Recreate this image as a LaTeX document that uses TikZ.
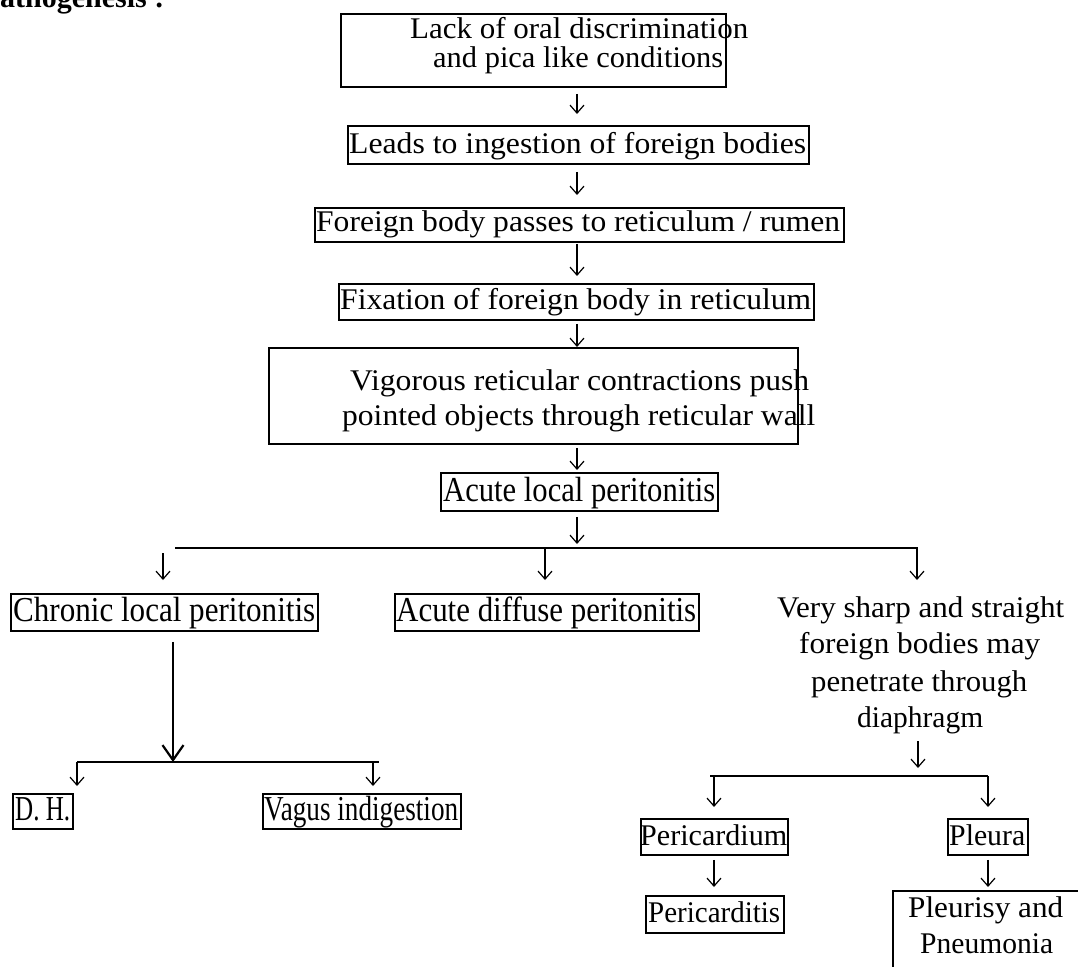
\documentclass[tikz,border=0pt]{standalone}
\usepackage{fontspec}
\setmainfont{Liberation Serif}
\usetikzlibrary{arrows.meta}
% stretch a line of text to a given width (in pt), keeping its height
\newcommand{\fitline}[2]{\resizebox{#1pt}{\height}{#2}}

\tikzset{
  box/.style={draw, line width=1.8pt, inner sep=0pt, anchor=north west},
  txt/.style={anchor=base west, inner sep=0pt, font=\fontsize{30}{36}\selectfont},
  tall/.style={anchor=base west, inner sep=0pt, font=\fontsize{35}{40}\selectfont},
  flow/.style={line width=1.2pt, -{Straight Barb[length=8pt,width=14pt,line width=1.2pt]}},
  bigflow/.style={line width=2.2pt, -{Straight Barb[length=15pt,width=21pt,line width=2.2pt]}},
  bar/.style={line width=1.6pt},
}

\begin{document}
\begin{tikzpicture}[x=1pt,y=-1pt]
\clip (0,0) rectangle (1078,966);

% heading, cut at the top edge
\node[anchor=base west, inner sep=0pt, font=\fontsize{30}{36}\selectfont\bfseries] (title) at (0,8) {athogenesis :};

\coordinate (spine) at (577,0);

% ---------- main chain ----------
\node[box, minimum width=385pt, minimum height=73pt] (b1) at (340,13) {};
\node[txt] (t1a) at (410,39) {\fitline{338}{Lack of oral discrimination}};
\node[txt] (t1b) at (433,67) {\fitline{290}{and pica like conditions}};

\node[box, minimum width=461pt, minimum height=38pt] (b2) at (347,125) {};
\node[txt] (t2) at (349,153) {\fitline{457}{Leads to ingestion of foreign bodies}};

\node[box, minimum width=529pt, minimum height=34pt] (b3) at (314,207) {};
\node[txt] (t3) at (316,231) {\fitline{524}{Foreign body passes to reticulum / rumen}};

\node[box, minimum width=475pt, minimum height=36pt] (b4) at (338,283) {};
\node[txt] (t4) at (340,309) {\fitline{471}{Fixation of foreign body in reticulum}};

\node[box, minimum width=529pt, minimum height=96pt] (b5) at (268,347) {};
\node[txt] (t5a) at (350,390) {\fitline{459}{Vigorous reticular contractions push}};
\node[txt] (t5b) at (342,425) {\fitline{473}{pointed objects through reticular wall}};

\node[box, minimum width=277pt, minimum height=38pt] (b6) at (440,472) {};
\node[tall] (t6) at (443,501) {\fitline{272}{Acute local peritonitis}};

\draw[flow, shorten <=6pt, shorten >=11pt] (b1.south -| spine) -- (b2.north -| spine);
\draw[flow, shorten <=7pt, shorten >=12pt] (b2.south -| spine) -- (b3.north -| spine);
\draw[flow, shorten <=1pt, shorten >=7pt] (b3.south -| spine) -- (b4.north -| spine);
\draw[flow, shorten <=3pt, shorten >=0pt] (b4.south -| spine) -- (b5.north -| spine);
\draw[flow, shorten <=3pt, shorten >=2pt] (b5.south -| spine) -- (b6.north -| spine);

% ---------- first branching ----------
\coordinate (h1L) at (175,548);
\coordinate (h1R) at (918,548);
\draw[bar] (h1L) -- (h1R);
\draw[flow, shorten <=5pt, shorten >=4pt] (b6.south -| spine) -- (h1L -| spine);

\node[box, minimum width=307pt, minimum height=37pt] (b7) at (10,593) {};
\node[tall] (t7) at (13,621) {\fitline{302}{Chronic local peritonitis}};
\node[box, minimum width=304pt, minimum height=37pt] (b8) at (394,593) {};
\node[tall] (t8) at (396,621) {\fitline{300}{Acute diffuse peritonitis}};

\node[txt] (t9a) at (777,617) {\fitline{287}{Very sharp and straight}};
\node[txt] (t9b) at (799,653) {\fitline{241}{foreign bodies may}};
\node[txt] (t9c) at (811,691) {\fitline{216}{penetrate through}};
\node[txt] (t9d) at (857,727) {\fitline{126}{diaphragm}};

\coordinate (k1) at (163,553);
\coordinate (k2) at (545,548);
\coordinate (k3) at (917,548);
\draw[flow, shorten >=13pt] (k1) -- (k1 |- b7.north);
\draw[flow, shorten >=13pt] (k2) -- (k2 |- b8.north);
\draw[flow] (k3) -- ++(0,32);

% ---------- chronic branch ----------
\coordinate (h2L) at (77,762);
\coordinate (h2R) at (379,762);
\draw[bar] (h2L) -- (h2R);
\draw[bigflow, shorten <=10pt] (b7.south -| 173,0) -- (h2L -| 173,0);

\node[box, minimum width=60pt, minimum height=35pt] (b10) at (12,793) {};
\node[tall] (t10) at (15,820) {\fitline{55}{D. H.}};
\node[box, minimum width=198pt, minimum height=35pt] (b11) at (262,793) {};
\node[tall] (t11) at (264,820) {\fitline{194}{Vagus indigestion}};

\coordinate (k4) at (77,762);
\coordinate (k5) at (373,762);
\draw[flow, shorten >=7pt] (k4) -- (k4 |- b10.north);
\draw[flow, shorten >=7pt] (k5) -- (k5 |- b11.north);

% ---------- diaphragm branch ----------
\coordinate (h3L) at (710,776);
\coordinate (h3R) at (988,776);
\draw[bar] (h3L) -- (h3R);
\coordinate (k6) at (918,741);
\draw[flow, shorten >=8pt] (k6) -- (k6 |- h3L);

\node[box, minimum width=147pt, minimum height=36pt] (b12) at (640,818) {};
\node[txt] (t12) at (640,845) {\fitline{147}{Pericardium}};
\node[box, minimum width=80pt, minimum height=36pt] (b13) at (947,818) {};
\node[txt] (t13) at (949,845) {\fitline{76}{Pleura}};

\coordinate (k7) at (714,776);
\coordinate (k8) at (988,776);
\draw[flow, shorten >=11pt] (k7) -- (k7 |- b12.north);
\draw[flow, shorten >=11pt] (k8) -- (k8 |- b13.north);

\node[box, minimum width=138pt, minimum height=37pt] (b14) at (645,895) {};
\node[txt] (t14) at (648,922) {\fitline{132}{Pericarditis}};
\node[box, minimum width=300pt, minimum height=200pt] (b15) at (892,890) {};
\node[txt] (t15a) at (908,917) {\fitline{155}{Pleurisy and}};
\node[txt] (t15b) at (920,953) {\fitline{133}{Pneumonia}};

\draw[flow, shorten <=4pt, shorten >=8pt] (b12.south -| k7) -- (b14.north -| k7);
\draw[flow, shorten <=4pt, shorten >=3pt] (b13.south -| k8) -- (b15.north -| k8);

\end{tikzpicture}
\end{document}
